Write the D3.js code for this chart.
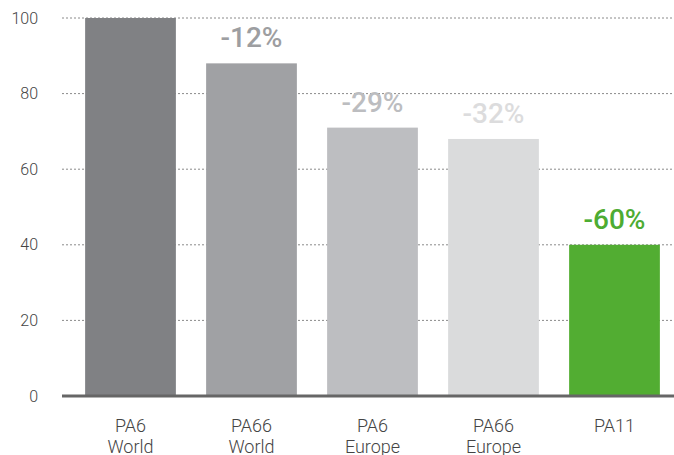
<!DOCTYPE html>
<html>
<head>
<meta charset="utf-8">
<script src="https://cdn.jsdelivr.net/npm/d3@7"></script>
<style>
  body { margin: 0; background: #fff; }
  svg { display: block; font-family: Roboto, sans-serif; }
</style>
</head>
<body>
<div id="chart"></div>
<script>
// data
const categories = [["PA6", "World"], ["PA66", "World"], ["PA6", "Europe"], ["PA66", "Europe"], ["PA11"]];
const values = [100, 88, 71, 68, 40];
const changes = ["", "-12%", "-29%", "-32%", "-60%"];
const yTicks = [0, 20, 40, 60, 80, 100];
const barColors = ["#808184", "#a0a1a4", "#bdbec1", "#dadbdc", "#52ad32"];
const labelColors = ["#808184", "#9d9ea1", "#bcbdc0", "#dcdcdd", "#4dac32"];

const width = 674, height = 455;
const margin = { top: 18, right: 0, bottom: 59, left: 62 };

const svg = d3.select("#chart")
  .append("svg")
  .attr("width", width)
  .attr("height", height);

const x = d3.scaleBand()
  .domain(d3.range(values.length))
  .range([70, 675])
  .paddingInner(0.25)
  .paddingOuter(0.125);

const y = d3.scaleLinear()
  .domain([0, 100])
  .range([height - margin.bottom, margin.top]);

// gridlines
svg.append("g")
  .selectAll("line")
  .data(yTicks.filter(d => d > 0))
  .join("line")
    .attr("x1", margin.left)
    .attr("x2", width)
    .attr("y1", d => y(d))
    .attr("y2", d => y(d))
    .attr("stroke", "#8a8a8a")
    .attr("stroke-width", 1)
    .attr("stroke-dasharray", "2,2");

// y tick labels
svg.append("g")
  .selectAll("text")
  .data(yTicks)
  .join("text")
    .attr("x", 38)
    .attr("y", d => y(d))
    .attr("dy", "0.35em")
    .attr("text-anchor", "end")
    .attr("font-size", 16)
    .attr("font-weight", 300)
    .attr("fill", "#444")
    .text(d => d);

// bars
svg.append("g")
  .selectAll("rect")
  .data(values)
  .join("rect")
    .attr("x", (d, i) => x(i))
    .attr("y", d => y(d))
    .attr("width", x.bandwidth())
    .attr("height", d => y(0) - y(d))
    .attr("fill", (d, i) => barColors[i]);

// baseline
svg.append("line")
  .attr("x1", margin.left)
  .attr("x2", width)
  .attr("y1", y(0))
  .attr("y2", y(0))
  .attr("stroke", "#666")
  .attr("stroke-width", 3);

// change labels
svg.append("g")
  .selectAll("text")
  .data(values)
  .join("text")
    .attr("x", (d, i) => x(i) + x.bandwidth() / 2)
    .attr("y", d => y(d) - 16)
    .attr("text-anchor", "middle")
    .attr("font-size", 28)
    .attr("font-weight", 500)
    .attr("fill", (d, i) => labelColors[i])
    .text((d, i) => changes[i]);

// category labels
const cat = svg.append("g")
  .selectAll("text")
  .data(categories)
  .join("text")
    .attr("x", (d, i) => x(i) + x.bandwidth() / 2)
    .attr("y", 432)
    .attr("text-anchor", "middle")
    .attr("font-size", 18)
    .attr("font-weight", 300)
    .attr("fill", "#444");

cat.selectAll("tspan")
  .data(d => d)
  .join("tspan")
    .attr("x", function() { return this.parentNode.getAttribute("x"); })
    .attr("dy", (d, i) => i === 0 ? 0 : 21)
    .text(d => d);
</script>
</body>
</html>
